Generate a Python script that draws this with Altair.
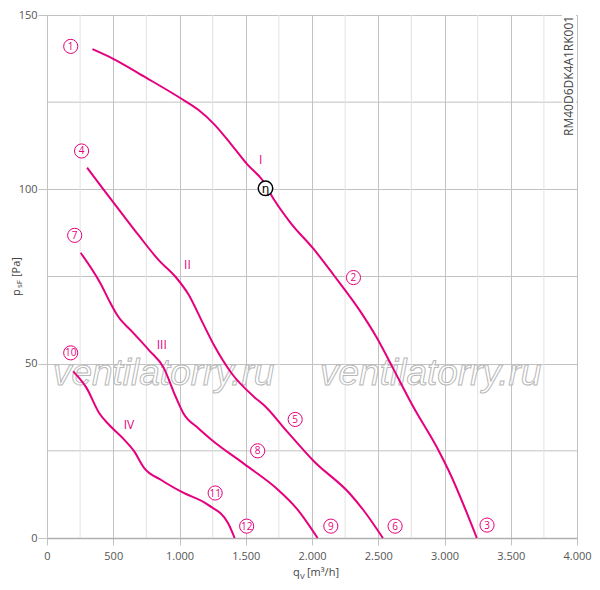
import altair as alt
import pandas as pd

MAGENTA = "#e5007d"
FONT = "Open Sans"

# ---- curve data (q in m3/h, p in Pa) ----
c1_q = [343, 507, 744, 1005, 1142, 1266, 1390, 1515, 1627, 1714, 1838, 2012, 2162, 2361, 2485, 2610, 2759, 2958, 3032, 3244]
c1_p = [140.2, 137.3, 132.1, 126.2, 122.8, 118.5, 112.9, 107.0, 102.6, 97.0, 90.4, 82.9, 75.5, 65.2, 57.7, 48.8, 38.0, 24.9, 19.3, 0]

c2_q = [303, 420, 570, 694, 843, 968, 1067, 1179, 1266, 1390, 1565, 1640, 1813, 2012, 2286, 2386, 2535]
c2_p = [106.2, 100.3, 92.8, 86.7, 79.7, 75.0, 69.9, 61.4, 54.9, 47.4, 40.4, 38.0, 30.5, 22.1, 12.7, 8.1, 0]

c3_q = [254, 408, 470, 532, 644, 769, 881, 968, 1030, 1142, 1241, 1490, 1739, 1888, 2042]
c3_p = [81.8, 72.7, 68.0, 63.8, 59.1, 53.9, 48.8, 40.8, 35.7, 31.5, 28.2, 21.2, 14.0, 8.3, 0]

c4_q = [197, 296, 396, 470, 570, 657, 731, 868, 1017, 1216, 1366, 1416]
c4_p = [47.8, 43.2, 35.7, 32.4, 28.7, 24.9, 20.2, 16.5, 13.2, 9.5, 4.3, 0]

# circled point numbers
circ_num = ["1", "2", "3", "4", "5", "6", "7", "8", "9", "10", "11", "12"]
circ_q = [179, 2313, 3321, 261, 1873, 2627, 209, 1590, 2142, 179, 1269, 1507]
circ_p = [141, 74.7, 3.7, 111, 34, 3.4, 86.8, 25, 3.4, 53.1, 12.9, 3.4]

# roman curve labels
rom_txt = ["I", "II", "III", "IV"]
rom_q = [1612, 1060, 866, 619]
rom_p = [108.4, 78.4, 55.3, 32.3]

# efficiency marker
eta_q = [1649]
eta_p = [100.3]

# axis ticks
x_major = [0, 500, 1000, 1500, 2000, 2500, 3000, 3500, 4000]
x_minor = [250, 750, 1250, 1750, 2250, 2750, 3250, 3750]
y_major = [0, 50, 100, 150]
y_minor = [25, 75, 125]

wm_q = [880, 2896]
wm_p = [46.9, 46.9]
wm_txt = ["ventilatorry.ru", "ventilatorry.ru"]

W, H = 530, 523

XS = alt.Scale(domain=[0, 4000], nice=False, zero=False)
YS = alt.Scale(domain=[0, 150], nice=False, zero=False)

XA = alt.Axis(values=x_major, grid=True, gridColor="#c2c2c2", gridWidth=1,
              tickColor="#c2c2c2", tickSize=7, domainColor="#b0b0b0", domainWidth=1.5,
              labelColor="#555555", labelFontSize=11, labelFont=FONT, labelPadding=5,
              labelFlush=False, labelOverlap=False,
              labelExpr="replace(format(datum.value, ','), ',', '.')", title=None)
YA = alt.Axis(values=y_major, grid=True, gridColor="#c2c2c2", gridWidth=1,
              tickColor="#c2c2c2", tickSize=9, domainColor="#c2c2c2",
              labelFlush=False, labelOverlap=False,
              labelColor="#555555", labelFontSize=11, labelFont=FONT, labelPadding=1, title=None)


def X():
    return alt.X("q:Q", scale=XS, axis=XA, title=None)


def Y():
    return alt.Y("p:Q", scale=YS, axis=YA, title=None)


rows = []
for name, qs, ps in [("I", c1_q, c1_p), ("II", c2_q, c2_p), ("III", c3_q, c3_p), ("IV", c4_q, c4_p)]:
    for q, p in zip(qs, ps):
        rows.append({"curve": name, "q": q, "p": p})
curves = pd.DataFrame(rows)

axis_df = pd.DataFrame({"q": [0, 4000], "p": [0, 150]})
base = alt.Chart(axis_df).mark_point(opacity=0).encode(x=X(), y=Y())

hgrid = alt.Chart(pd.DataFrame({"p": y_minor})).mark_rule(color="#c2c2c2", strokeWidth=1).encode(y=Y())
vgrid = alt.Chart(pd.DataFrame({"q": x_minor})).mark_rule(color="#e2e2e2", strokeWidth=1).encode(x=X())

watermark = alt.Chart(pd.DataFrame({"q": wm_q, "p": wm_p, "t": wm_txt})).mark_text(
    font="Liberation Sans", fontStyle="italic", fontSize=37, fill="white", fillOpacity=0.6,
    stroke="#b8b8b8", strokeWidth=1, align="center", baseline="middle").encode(
    x=X(), y=Y(), text="t:N")

lines = alt.Chart(curves).mark_line(color=MAGENTA, strokeWidth=2, interpolate="monotone").encode(
    x=X(), y=Y(), detail="curve:N", order="q:Q")

circ_df = pd.DataFrame({"q": circ_q, "p": circ_p, "t": circ_num})
circles = alt.Chart(circ_df).mark_point(shape="circle", size=200, filled=False, fill="white",
                                        fillOpacity=1, stroke=MAGENTA, strokeWidth=1, opacity=1).encode(
    x=X(), y=Y())
circ_txt = alt.Chart(circ_df).mark_text(color=MAGENTA, font=FONT, fontSize=10, align="center",
                                        baseline="middle", dy=0.5).encode(
    x=X(), y=Y(), text="t:N")

roman = alt.Chart(pd.DataFrame({"q": rom_q, "p": rom_p, "t": rom_txt})).mark_text(
    color=MAGENTA, font=FONT, fontSize=12, align="center", baseline="middle").encode(
    x=X(), y=Y(), text="t:N")

eta_df = pd.DataFrame({"q": eta_q, "p": eta_p, "t": ["η"]})
eta_c = alt.Chart(eta_df).mark_point(shape="circle", size=210, filled=False, fill="white",
                                     fillOpacity=1, stroke="black", strokeWidth=1.5, opacity=1).encode(
    x=X(), y=Y())
eta_t = alt.Chart(eta_df).mark_text(color="black", font="DejaVu Sans", fontSize=12, align="center",
                                    baseline="middle", dy=1).encode(
    x=X(), y=Y(), text="t:N")

rm_bg = alt.Chart(pd.DataFrame({"a": [0]})).mark_rect(color="white").encode(
    x=alt.value(W - 15), x2=alt.value(W - 1), y=alt.value(0), y2=alt.value(124))
rm_txt = alt.Chart(pd.DataFrame({"t": ["RM40D6DK4A1RK001"]})).mark_text(
    color="#444444", font=FONT, fontSize=12, angle=270, align="left", baseline="middle").encode(
    x=alt.value(W - 8), y=alt.value(121), text="t:N")


def txt(s, x, y, size=11, angle=0):
    return alt.Chart(pd.DataFrame({"t": [s]})).mark_text(
        color="#444444", font=FONT, fontSize=size, angle=angle, align="left", baseline="middle").encode(
        x=alt.value(x), y=alt.value(y), text="t:N")


xt1 = txt("q", 246, 558)
xt2 = txt("V", 253, 562, size=8)
xt3 = txt("[m³/h]", 260, 558)
yt1 = txt("p", -30, 281, angle=270)
yt2 = txt("sF", -27, 273, size=8, angle=270)
yt3 = txt("[Pa]", -30, 262, angle=270)

chart = alt.layer(
    base, hgrid, vgrid, watermark, lines, circles, circ_txt, roman, eta_c, eta_t,
    rm_bg, rm_txt, xt1, xt2, xt3, yt1, yt2, yt3
).properties(
    width=W, height=H,
    padding={"left": 39, "top": 7, "right": 15, "bottom": 42},
    autosize=alt.AutoSizeParams(type="none"),
).configure_view(stroke=None)

chart.save("out.html", embed_options={"renderer": "svg", "actions": False})
